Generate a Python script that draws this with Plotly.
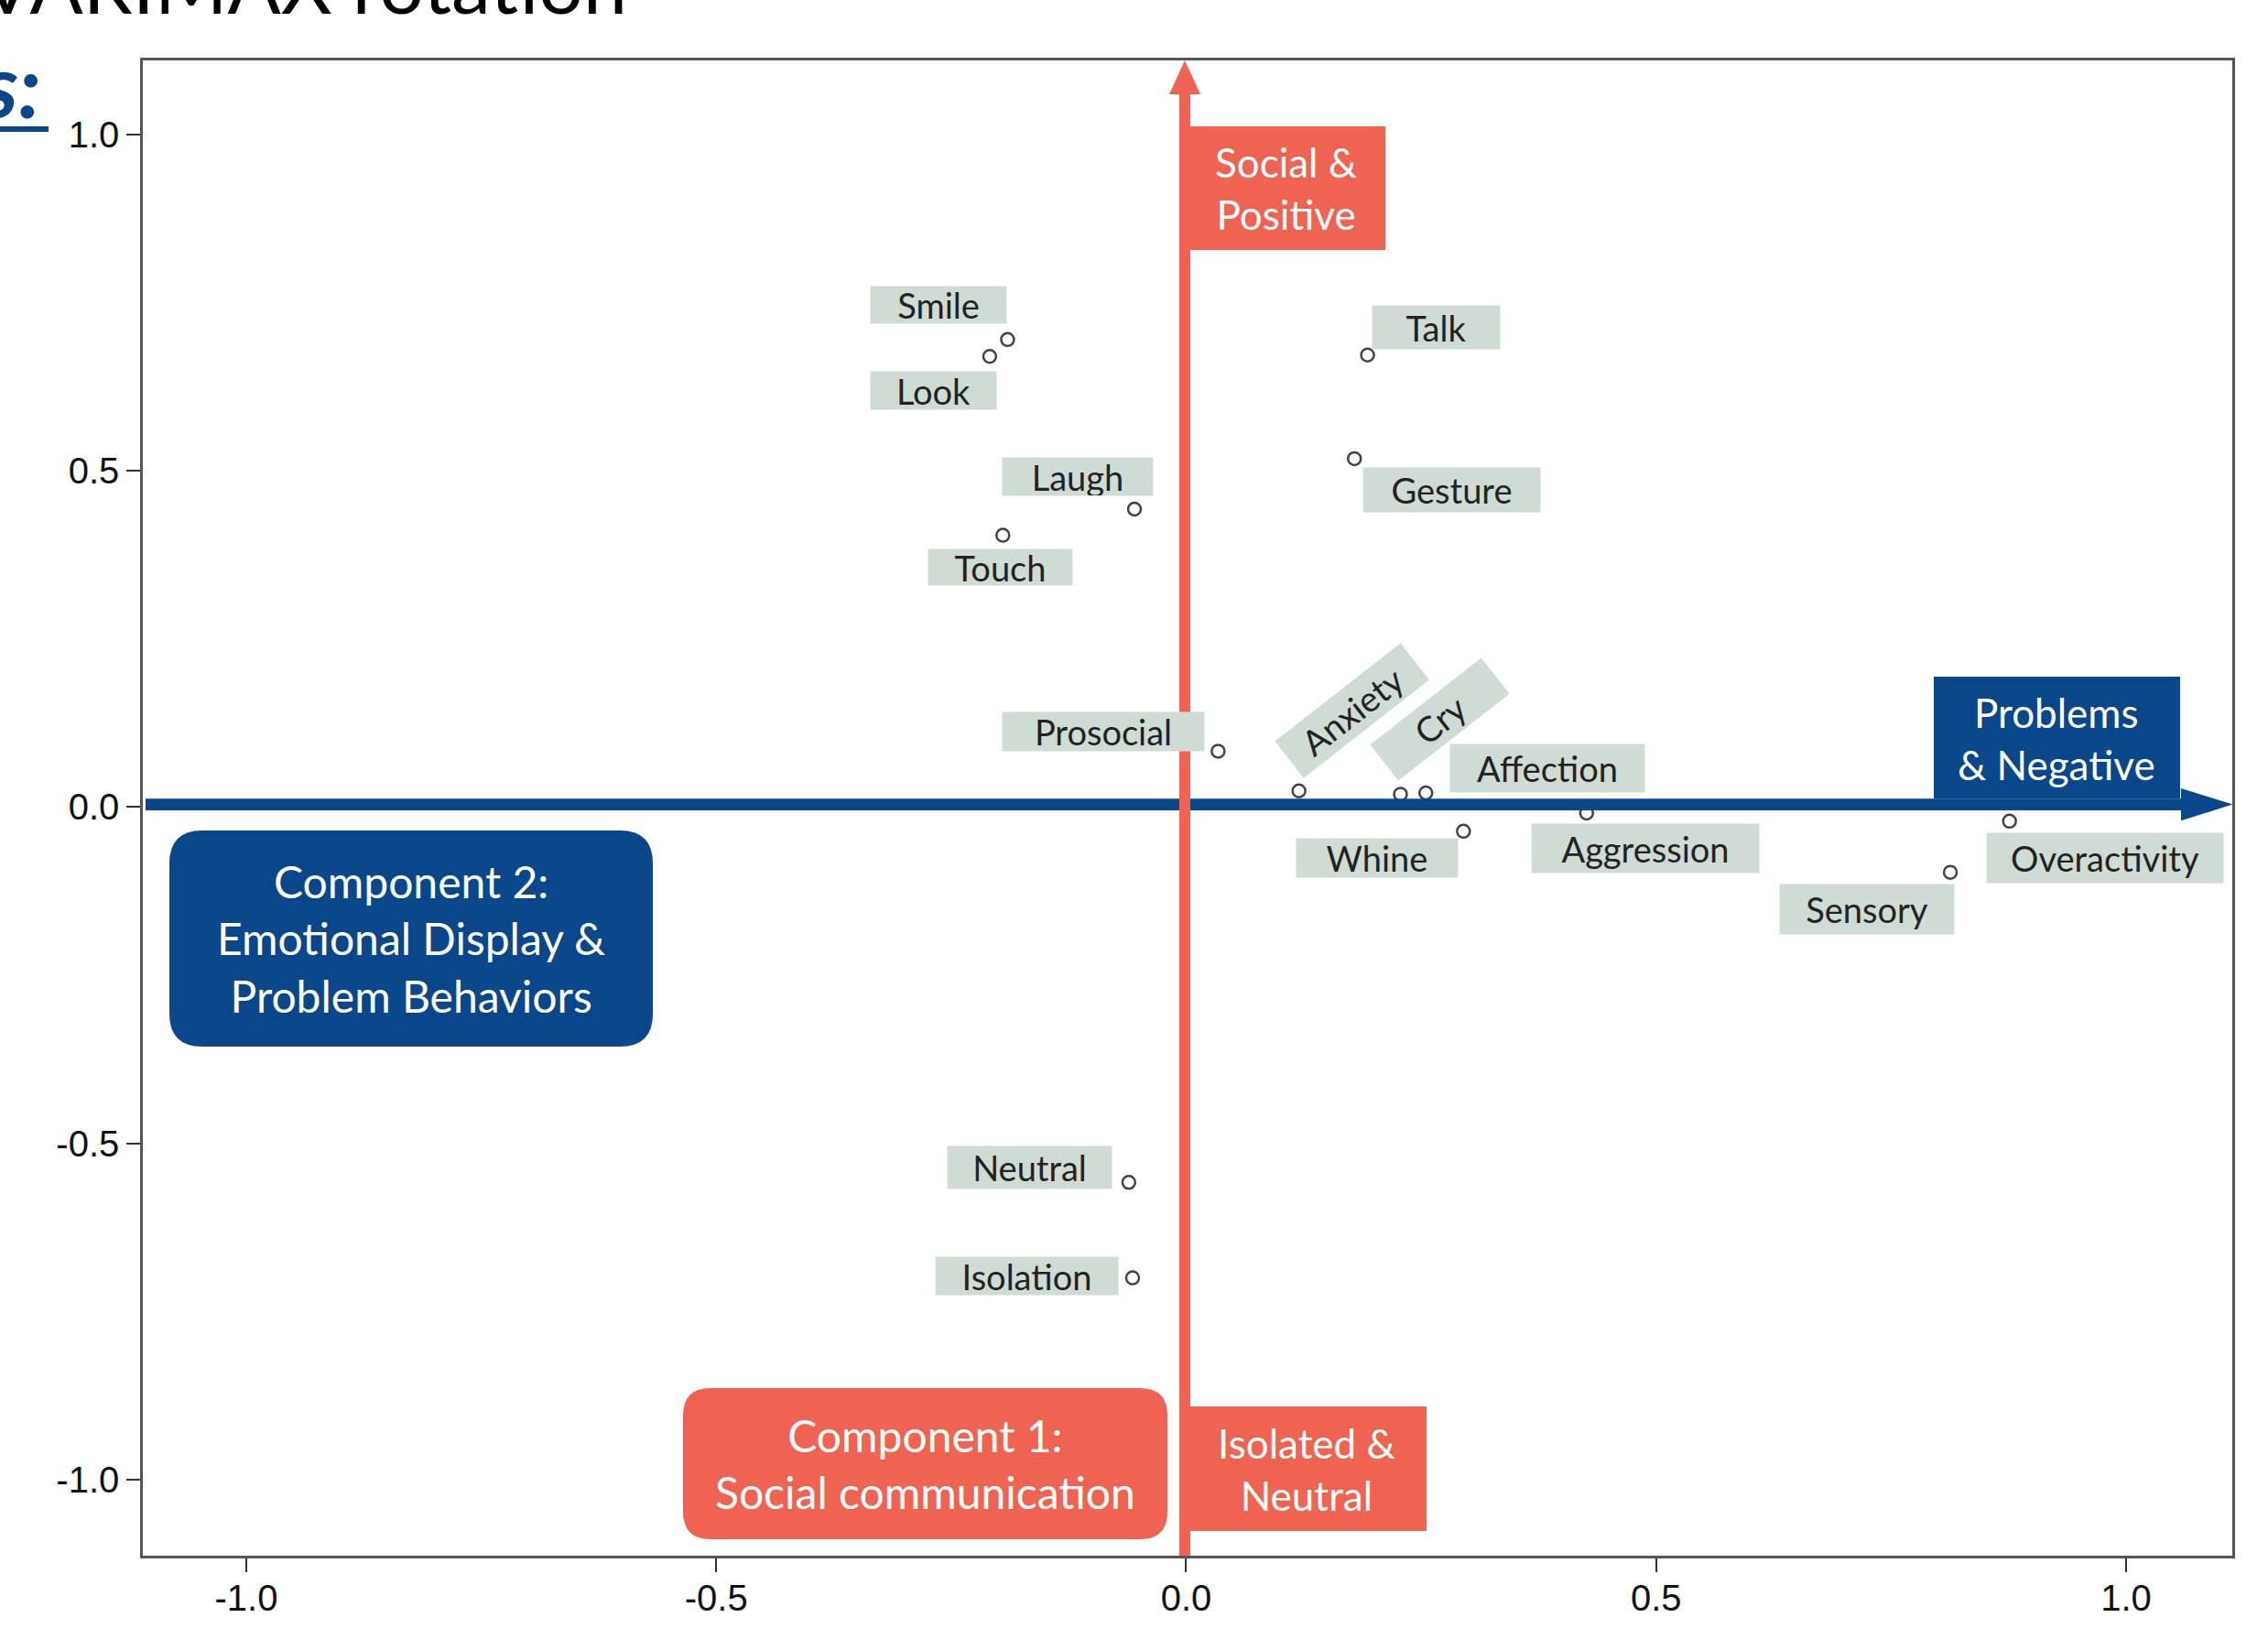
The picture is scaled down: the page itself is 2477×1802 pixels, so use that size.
import plotly.graph_objects as go

# ---------------- data ----------------
names = ["Smile", "Look", "Laugh", "Touch", "Prosocial", "Talk", "Gesture",
         "Anxiety", "Cry", "Affection", "Whine", "Aggression", "Sensory",
         "Overactivity", "Neutral", "Isolation"]
comp2 = [-0.190, -0.209, -0.055, -0.195, 0.034, 0.193, 0.179,
         0.120, 0.228, 0.255, 0.295, 0.426, 0.813,
         0.876, -0.061, -0.057]
comp1 = [0.695, 0.670, 0.443, 0.404, 0.083, 0.672, 0.518,
         0.024, 0.019, 0.021, -0.036, -0.009, -0.097,
         -0.021, -0.558, -0.700]
tick_vals = [-1.0, -0.5, 0.0, 0.5, 1.0]
tick_labels = ["-1.0", "-0.5", "0.0", "0.5", "1.0"]

# ---------------- layout constants ----------------
W, H = 2477, 1802
ML, MR, MT, MB = 156, 39, 66, 103
PW, PH = W - ML - MR, H - MT - MB
XR = [-1.11, 1.113]
YR = [-1.113, 1.110]

RED = "#EE6352"
BLUE = "#0A468A"
LABEL_BG = "#CFDCD4"
LABEL_FONT = dict(family="Lato, sans-serif", size=38, color="#222222")

# label placement: offset (px) of label-box centre from point, box w/h, angle
label_style = {
    "Smile": (-75, 38, 148, 40, 0),
    "Look": (-61, -37, 137, 41, 0),
    "Laugh": (-62, 35, 164, 41, 0),
    "Touch": (-3, -35, 157, 39, 0),
    "Prosocial": (-125, 21, 220, 42, 0),
    "Talk": (75, 30, 139, 47, 0),
    "Gesture": (106, -34, 193, 48, 0),
    "Anxiety": (58, 88, 173, 50, -38),
    "Cry": (43, 82, 153, 49, -38),
    "Affection": (133, 27, 212, 52, 0),
    "Whine": (-94, -29, 176, 42, 0),
    "Aggression": (64, -38, 248, 53, 0),
    "Sensory": (-91, -40, 190, 54, 0),
    "Overactivity": (104, -40, 258, 54, 0),
    "Neutral": (-108, 16, 179, 46, 0),
    "Isolation": (-115, 2, 199, 41, 0),
}


def px(X, Y):
    """image pixel -> pixel offset relative to the plot's top-left corner (y up)."""
    return X - ML, MT - Y


def poly(points):
    s = ""
    for i, (X, Y) in enumerate(points):
        a, b = px(X, Y)
        s += ("M" if i == 0 else "L") + f"{a:.1f},{b:.1f} "
    return s + "Z"


def rrect(x0, y0, x1, y1, r):
    def p(X, Y):
        a, b = px(X, Y)
        return f"{a:.1f},{b:.1f}"
    return (f"M{p(x0 + r, y0)} L{p(x1 - r, y0)} Q{p(x1, y0)} {p(x1, y0 + r)} "
            f"L{p(x1, y1 - r)} Q{p(x1, y1)} {p(x1 - r, y1)} "
            f"L{p(x0 + r, y1)} Q{p(x0, y1)} {p(x0, y1 - r)} "
            f"L{p(x0, y0 + r)} Q{p(x0, y0)} {p(x0 + r, y0)} Z")


def shape(path, color):
    return dict(type="path", xref="paper", yref="paper", xsizemode="pixel",
                ysizemode="pixel", xanchor=0, yanchor=1, path=path,
                fillcolor=color, line=dict(width=0), layer="above")


def paper(X, Y):
    return (X - ML) / PW, 1 - (Y - MT) / PH


fig = go.Figure()
fig.add_trace(go.Scatter(
    x=comp2, y=comp1, mode="markers", text=names,
    marker=dict(symbol="circle-open", size=14, color="#444444",
                line=dict(width=2.5)),
    hoverinfo="text", showlegend=False, cliponaxis=False))

shapes = [
    # blue horizontal axis arrow (component 2)
    shape(poly([(159, 872.3), (2382, 872.3), (2382, 861), (2438.5, 878.6),
                (2382, 896.2), (2382, 885), (159, 885)]), BLUE),
    # red vertical axis arrow (component 1)
    shape(poly([(1288, 1699), (1288, 103), (1277, 103), (1294, 66),
                (1311, 103), (1300, 103), (1300, 1699)]), RED),
    # pole boxes
    shape(poly([(1300, 138), (1513, 138), (1513, 273), (1300, 273)]), RED),
    shape(poly([(2112, 739), (2381, 739), (2381, 872.3), (2112, 872.3)]), BLUE),
    shape(poly([(1300, 1536), (1558, 1536), (1558, 1672), (1300, 1672)]), RED),
    # component boxes
    shape(rrect(746, 1516, 1275, 1681, 30), RED),
    shape(rrect(185, 907, 713, 1143, 36), BLUE),
    # underline of cut-off heading
    dict(type="line", xref="paper", yref="paper",
         x0=paper(0, 141)[0], x1=paper(53, 141)[0],
         y0=paper(0, 141)[1], y1=paper(0, 141)[1],
         line=dict(color=BLUE, width=6)),
]

annotations = []
for n, xv, yv in zip(names, comp2, comp1):
    dx, dy, w, h, ang = label_style[n]
    annotations.append(dict(
        x=xv, y=yv, xref="x", yref="y", text=n, showarrow=False,
        xanchor="center", yanchor="middle", xshift=dx, yshift=dy,
        width=w, height=h, bgcolor=LABEL_BG, borderpad=0, align="center",
        valign="middle", textangle=ang, font=LABEL_FONT))


def box_text(X, Y, text, size):
    px_, py_ = paper(X, Y)
    return dict(x=px_, y=py_, xref="paper", yref="paper", text=text,
                showarrow=False, xanchor="center", yanchor="middle",
                align="center",
                font=dict(family="Lato, sans-serif", size=size, color="white"))


annotations += [
    box_text(1404, 205, "Social &<br>Positive", 44),
    box_text(2246, 806, "Problems<br>& Negative", 44),
    box_text(1427, 1604, "Isolated &<br>Neutral", 44),
    box_text(1010, 1598, "Component 1:<br>Social communication", 48),
    box_text(449, 1025, "Component 2:<br>Emotional Display &<br>Problem Behaviors", 48),
]

# cut-off slide heading fragments
tx, ty = paper(-22, 34)
annotations.append(dict(x=tx, y=ty, xref="paper", yref="paper",
                        text="VARIMAX rotation", showarrow=False,
                        xanchor="left", yanchor="bottom", borderpad=0,
                        font=dict(family="Lato, sans-serif", size=86,
                                  color="black")))
sx, sy = paper(46, 150)
annotations.append(dict(x=sx, y=sy, xref="paper", yref="paper",
                        text="<b><i>s:</i></b>", showarrow=False,
                        xanchor="right", yanchor="bottom", borderpad=0,
                        font=dict(family="Lato, sans-serif", size=96,
                                  color=BLUE)))

axis_common = dict(
    tickvals=tick_vals, ticktext=tick_labels, ticks="outside", ticklen=15,
    tickwidth=2, tickcolor="#333333", showline=True, linecolor="#555555",
    linewidth=2.5, mirror=True, showgrid=False, zeroline=False,
    tickfont=dict(family="Liberation Sans, Arial, sans-serif", size=40,
                  color="#111111"))

fig.update_layout(
    width=W, height=H,
    margin=dict(l=ML, r=MR, t=MT, b=MB, pad=0),
    paper_bgcolor="white", plot_bgcolor="white",
    xaxis=dict(range=XR, ticklabelstandoff=-6, **axis_common),
    yaxis=dict(range=YR, **axis_common),
    shapes=shapes, annotations=annotations,
)

fig.write_html("out.html", config={"displayModeBar": False},
               post_script="document.body.style.margin='0';"
                           "document.body.style.overflow='hidden';")
